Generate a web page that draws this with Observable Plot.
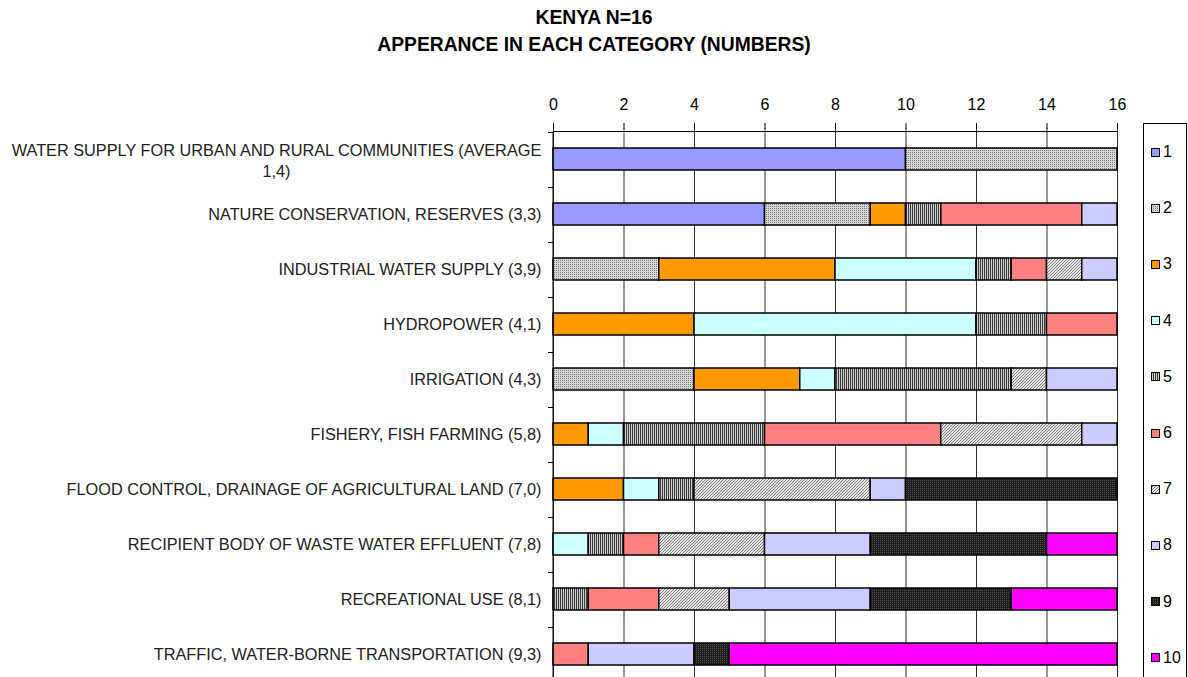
<!DOCTYPE html>
<html>
<head>
<meta charset="utf-8">
<script src="https://cdn.jsdelivr.net/npm/d3@7"></script>
<script src="https://cdn.jsdelivr.net/npm/@observablehq/plot@0.6"></script>
<style>
  html, body { margin: 0; padding: 0; overflow: hidden; background: #fff; }
  body { position: relative; width: 1188px; height: 677px; font-family: "Liberation Sans", Arial, sans-serif; }
  #title { position: absolute; left: 0; top: 4px; width: 1188px; text-align: center; font-weight: bold; font-size: 19.3px; line-height: 27px; color: #000; }
  #chart { position: absolute; left: 0; top: 0; }
  #legend { position: absolute; left: 1143px; top: 123px; width: 44px; height: 600px; border: 1px solid #000; box-sizing: border-box; background: #fff; }
  .item { height: 56.2px; display: flex; align-items: center; font-size: 16px; color: #000; }
  .item svg { margin-left: 7px; margin-right: 3px; }
</style>
</head>
<body>
<div id="chart"></div>
<div id="title">KENYA N=16<br>APPERANCE IN EACH CATEGORY (NUMBERS)</div>
<div id="legend"></div>
<script>
// ---- data ----
const activities = [
  "WATER SUPPLY FOR URBAN AND RURAL COMMUNITIES (AVERAGE 1,4)",
  "NATURE CONSERVATION, RESERVES (3,3)",
  "INDUSTRIAL WATER SUPPLY (3,9)",
  "HYDROPOWER (4,1)",
  "IRRIGATION (4,3)",
  "FISHERY, FISH FARMING (5,8)",
  "FLOOD CONTROL, DRAINAGE OF AGRICULTURAL LAND (7,0)",
  "RECIPIENT BODY OF WASTE WATER EFFLUENT (7,8)",
  "RECREATIONAL USE (8,1)",
  "TRAFFIC, WATER-BORNE TRANSPORTATION (9,3)"
];
const categories = ["1","2","3","4","5","6","7","8","9","10"];
const s1  = [10, 6, 0, 0, 0, 0, 0, 0, 0, 0];
const s2  = [ 6, 3, 3, 0, 4, 0, 0, 0, 0, 0];
const s3  = [ 0, 1, 5, 4, 3, 1, 2, 0, 0, 0];
const s4  = [ 0, 0, 4, 8, 1, 1, 1, 1, 0, 0];
const s5  = [ 0, 1, 1, 2, 5, 4, 1, 1, 1, 0];
const s6  = [ 0, 4, 1, 2, 0, 5, 0, 1, 2, 1];
const s7  = [ 0, 0, 1, 0, 1, 4, 5, 3, 2, 0];
const s8  = [ 0, 1, 1, 0, 2, 1, 1, 3, 4, 3];
const s9  = [ 0, 0, 0, 0, 0, 0, 6, 5, 4, 1];
const s10 = [ 0, 0, 0, 0, 0, 0, 0, 2, 3, 11];
const series = [s1, s2, s3, s4, s5, s6, s7, s8, s9, s10];
const xTicks = [0, 2, 4, 6, 8, 10, 12, 14, 16];
const fills = ["#9999ff", "url(#p2)", "#ff9900", "#ccffff", "url(#p5)", "#ff8080", "url(#p7)", "#ccccff", "url(#p9)", "#ff00ff"];

// long table built from the arrays
const rows = [];
activities.forEach((a, i) => {
  categories.forEach((c, j) => {
    const v = series[j][i];
    if (v > 0) rows.push({activity: a, cat: c, value: v});
  });
});

const ns = "http://www.w3.org/2000/svg";
function patternDefs() {
  const defs = document.createElementNS(ns, "defs");
  defs.innerHTML = `
    <pattern id="p2" width="2" height="2" patternUnits="userSpaceOnUse">
      <rect width="2" height="2" fill="#d6d6d6"/>
      <rect width="1" height="1" fill="#7a7a7a"/>
    </pattern>
    <pattern id="p5" width="2" height="2" patternUnits="userSpaceOnUse">
      <rect width="2" height="2" fill="#cfcfcf"/>
      <rect width="1" height="2" fill="#3a3a3a"/>
    </pattern>
    <pattern id="p7" width="3" height="3" patternUnits="userSpaceOnUse">
      <rect width="3" height="3" fill="#e8e8e8"/>
      <path d="M0,3 L3,0 M-1,1 L1,-1 M2,4 L4,2" stroke="#707070" stroke-width="0.9"/>
    </pattern>
    <pattern id="p9" width="2" height="2" patternUnits="userSpaceOnUse">
      <rect width="2" height="2" fill="#1c1c1c"/>
      <rect width="1" height="1" fill="#545454"/>
    </pattern>`;
  return defs;
}

function axisLines(index, scales, values, dims) {
  const g = document.createElementNS(ns, "g");
  g.setAttribute("stroke", "#000");
  g.setAttribute("fill", "none");
  const x0 = scales.x(0), x1 = scales.x(16);
  const y0 = scales.y(activities[0]);
  const step = scales.y(activities[1]) - y0;
  const top = y0 - step * 0.3;
  let d = `M${x0},${top}H${x1}M${x0},${top}V${top + step * activities.length + 10}`;
  for (let k = 0; k <= activities.length; k++) {
    const yy = Math.round(top + k * step) + 0.5;
    d += `M${x0 - 5},${yy}H${x0}`;
  }
  const p = document.createElementNS(ns, "path");
  p.setAttribute("d", d);
  p.setAttribute("stroke-width", "1");
  g.appendChild(p);
  return g;
}

const wrapped = activities[0].replace("(AVERAGE ", "(AVERAGE\n");

const chart = Plot.plot({
  width: 1188,
  height: 690,
  marginLeft: 553,
  marginRight: 71,
  marginTop: 128,
  marginBottom: 5,
  style: {fontFamily: "'Liberation Sans', Arial, sans-serif", fontSize: "16px", color: "#000", background: "transparent", overflow: "visible"},
  x: {domain: [0, 16], axis: null},
  y: {domain: activities, axis: null, paddingInner: 0.6, paddingOuter: 0.3},
  color: {type: "ordinal", domain: categories, range: fills},
  marks: [
    patternDefs,
    Plot.gridX(xTicks, {stroke: "#333", strokeOpacity: 1, strokeWidth: 1}),
    Plot.axisX(xTicks, {anchor: "top", tickSize: 6, tickPadding: 13, fontSize: 16, label: null, stroke: "#000", fill: "#000"}),
    Plot.barX(rows, Plot.stackX({y: "activity", x: "value", fill: "cat", stroke: "#000", strokeWidth: 1.5, order: null})),
    axisLines,
    Plot.text(activities.slice(1), {y: d => d, frameAnchor: "left", textAnchor: "end", dx: -12, fontSize: 16.3, fill: "#222"}),
    Plot.text([wrapped], {y: () => activities[0], frameAnchor: "left", textAnchor: "middle", dx: -277, dy: 0, lineHeight: 1.3, fontSize: 16.3, fill: "#222"})
  ]
});
document.getElementById("chart").appendChild(chart);

// legend
const legend = document.getElementById("legend");
categories.forEach((c, i) => {
  const item = document.createElement("div");
  item.className = "item";
  item.innerHTML = `<svg width="9" height="9"><rect x="0.5" y="0.5" width="8" height="8" fill="${fills[i]}" stroke="#000" stroke-width="1"/></svg><span>${c}</span>`;
  legend.appendChild(item);
});
</script>
</body>
</html>
